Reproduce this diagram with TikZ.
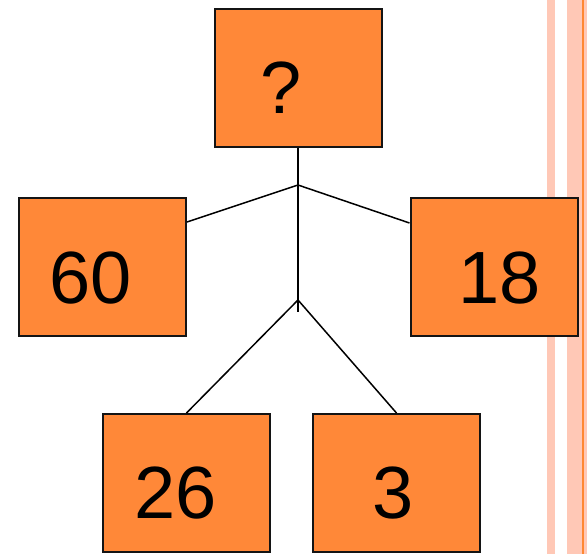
\documentclass[tikz,border=0pt]{standalone}
\usepackage{fontspec}
\setmainfont{Liberation Sans}
\definecolor{boxfill}{RGB}{255,136,56}
\definecolor{stripe}{RGB}{255,200,182}
\definecolor{stripeline}{RGB}{255,136,51}
\definecolor{edge}{RGB}{20,20,20}
\tikzset{
  numbox/.style={draw=edge, line width=2pt, fill=boxfill, minimum width=167pt, minimum height=138pt, inner sep=0pt},
  numtext/.style={anchor=base, inner sep=0pt, font=\fontsize{74}{80}\selectfont},
  link/.style={draw=black, line width=1.5pt}
}
\begin{document}
\begin{tikzpicture}[x=1pt, y=-1pt]
\useasboundingbox (0,0) rectangle (587,554);
% decorative stripes on the right
\fill[stripe] (547,0) rectangle (555,554);
\fill[stripe] (567,0) rectangle (587,554);
\fill[stripeline] (582,0) rectangle (584,554);
% boxes
\node[numbox] (top) at (298,77.5) {};
\node[numbox] (b60) at (102.5,267) {};
\node[numbox] (b18) at (494,267) {};
\node[numbox] (b26) at (186.5,483) {};
\node[numbox] (b3)  at (396.5,483) {};
% texts
\node[numtext] (tq)  at (281,113) {?};
\node[numtext] (t60) at (91,303) {60};
\node[numtext] (t18) at (500,303) {18};
\node[numtext] (t26) at (175.5,518) {26};
\node[numtext] (t3)  at (393,518) {3};
% junctions
\coordinate (j1) at (298,185);
\coordinate (j2) at (298,300);
\coordinate (stub) at (298,312);
% connectors
\draw[link] (top.south) -- (j1);
\draw[link] (j1) -- ([yshift=45pt]b60.east);
\draw[link] (j1) -- ([yshift=44pt]b18.west);
\draw[link] (j1) -- (stub);
\draw[link] (j2) -- (b26.north);
\draw[link] (j2) -- (b3.north);
\end{tikzpicture}
\end{document}
